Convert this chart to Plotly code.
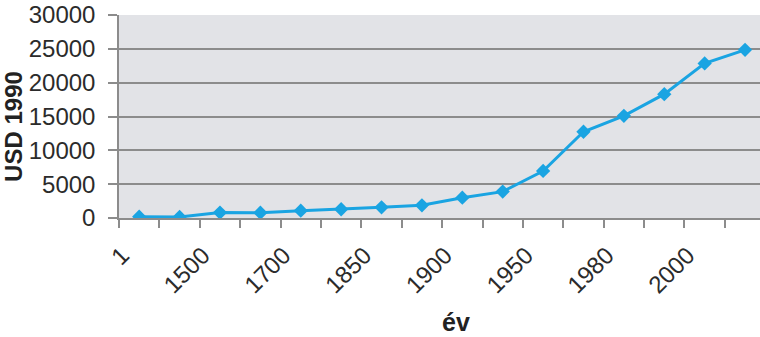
import plotly.graph_objects as go

# Years (categories) and GDP per capita in 1990 USD
years = ["1", "1000", "1500", "1600", "1700", "1820", "1850", "1870",
         "1900", "1913", "1950", "1973", "1980", "1990", "2000", "2008"]
gdp = [200, 150, 800, 780, 1080, 1290, 1580, 1880,
       3000, 3900, 6950, 12750, 15100, 18300, 22850, 24850]
# Only every other year is labelled on the axis
shown_labels = ["1", "", "1500", "", "1700", "", "1850", "",
                "1900", "", "1950", "", "1980", "", "2000", ""]
y_ticks = [0, 5000, 10000, 15000, 20000, 25000, 30000]
y_labels = ["0", "5000", "10000", "15000", "20000", "25000", "30000"]

LINE = "#1aa4e2"
GRID = "#8c8c8c"
TEXT = "#2b2b2b"
FONT = "Liberation Sans, Arial, sans-serif"

fig = go.Figure()
fig.add_trace(go.Scatter(
    x=years, y=gdp, mode="lines+markers",
    line=dict(color=LINE, width=3),
    marker=dict(symbol="diamond", size=11, color=LINE),
    showlegend=False,
))

fig.update_layout(
    width=760, height=337,
    margin=dict(l=119, r=0, t=15, b=119),
    paper_bgcolor="white",
    plot_bgcolor="#e2e3e7",
    font=dict(family=FONT, size=24, color=TEXT),
    annotations=[
        dict(text="<b>év</b>", xref="paper", yref="paper",
             x=0.525, y=-0.51, xanchor="center", yanchor="middle",
             showarrow=False, font=dict(size=25, color="#222222")),
        dict(text="<b>USD 1990</b>", xref="paper", yref="paper",
             x=-0.165, y=0.45, xanchor="center", yanchor="middle",
             textangle=-90, showarrow=False,
             font=dict(size=24, color="#222222")),
    ],
)

fig.update_xaxes(
    type="category",
    categoryorder="array", categoryarray=years,
    range=[-0.5, 15.37],
    tickmode="array", tickvals=years, ticktext=shown_labels,
    tickson="boundaries",
    ticks="outside", ticklen=8, tickcolor=GRID, tickwidth=1.5,
    tickangle=-45,
    ticklabelstandoff=12, ticklabelshift=-17,
    showline=True, linecolor=GRID, linewidth=1.5,
    showgrid=False, zeroline=False,
)

fig.update_yaxes(
    range=[0, 30000],
    tickmode="array", tickvals=y_ticks, ticktext=y_labels,
    ticks="outside", ticklen=9, tickcolor=GRID, tickwidth=1.5,
    showline=True, linecolor=GRID, linewidth=1.5,
    showgrid=True, gridcolor=GRID, gridwidth=1.5,
    zeroline=False,
    ticklabelstandoff=8,
)

fig.write_html("out.html")
